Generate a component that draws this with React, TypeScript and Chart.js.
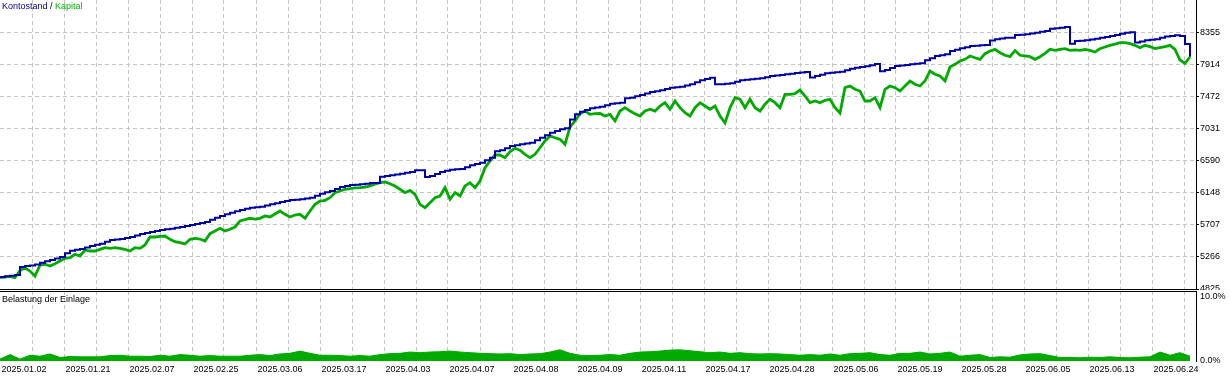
import React, { useEffect, useRef } from "react";
import { Chart, registerables } from "chart.js";

Chart.register(...registerables);

// ---- data ----
const balanceSeries = [
  4990, 5000, 5008, 5018, 5128, 5142, 5150, 5163, 5188, 5207,
  5225, 5246, 5266, 5317, 5353, 5366, 5377, 5397, 5418, 5434,
  5450, 5476, 5501, 5508, 5514, 5528, 5542, 5563, 5583, 5597,
  5611, 5625, 5639, 5648, 5656, 5669, 5680, 5694, 5707, 5721,
  5735, 5749, 5781, 5807, 5832, 5855, 5877, 5896, 5914, 5931,
  5946, 5953, 5960, 5976, 5993, 6008, 6025, 6038, 6052, 6056,
  6062, 6073, 6084, 6112, 6139, 6158, 6176, 6204, 6231, 6245,
  6259, 6263, 6269, 6277, 6287, 6287, 6374, 6383, 6393, 6404,
  6415, 6427, 6438, 6462, 6462, 6369, 6383, 6411, 6438, 6455,
  6470, 6476, 6480, 6505, 6531, 6549, 6567, 6601, 6636, 6725,
  6738, 6767, 6797, 6808, 6820, 6831, 6842, 6877, 6911, 6946,
  6980, 7004, 7027, 7041, 7162, 7234, 7270, 7293, 7317, 7328,
  7339, 7359, 7380, 7387, 7394, 7456, 7463, 7482, 7500, 7521,
  7541, 7552, 7565, 7583, 7601, 7608, 7615, 7631, 7648, 7675,
  7703, 7721, 7739, 7648, 7648, 7655, 7661, 7682, 7703, 7710,
  7717, 7723, 7730, 7746, 7762, 7769, 7776, 7786, 7794, 7803,
  7810, 7817, 7741, 7762, 7780, 7799, 7806, 7815, 7821, 7842,
  7863, 7875, 7886, 7897, 7910, 7928, 7826, 7845, 7872, 7900,
  7907, 7915, 7923, 7930, 7937, 7979, 8008, 8038, 8049, 8061,
  8107, 8125, 8144, 8159, 8176, 8180, 8185, 8190, 8252, 8268,
  8279, 8290, 8290, 8327, 8332, 8337, 8348, 8359, 8372, 8383,
  8414, 8421, 8428, 8436, 8207, 8245, 8249, 8254, 8265, 8276,
  8289, 8300, 8314, 8327, 8344, 8359, 8365, 8224, 8239, 8254,
  8261, 8268, 8290, 8307, 8315, 8323, 8314, 8203, 8028,
];

const equitySeries = [
  4981, 4990, 5000, 4981, 5080, 5115, 5073, 5004, 5156, 5166,
  5142, 5174, 5211, 5248, 5257, 5304, 5280, 5363, 5349, 5349,
  5372, 5395, 5386, 5395, 5386, 5372, 5349, 5395, 5386, 5432,
  5542, 5542, 5552, 5556, 5510, 5477, 5463, 5446, 5510, 5524,
  5514, 5487, 5588, 5625, 5662, 5625, 5648, 5680, 5763, 5783,
  5800, 5790, 5800, 5832, 5818, 5859, 5901, 5855, 5818, 5845,
  5855, 5800, 5901, 5993, 6038, 6048, 6084, 6153, 6176, 6200,
  6208, 6218, 6222, 6231, 6245, 6269, 6291, 6300, 6277, 6245,
  6200, 6153, 6186, 6131, 5993, 5946, 6015, 6084, 6107, 6222,
  6062, 6153, 6107, 6245, 6291, 6222, 6314, 6498, 6590, 6673,
  6673, 6636, 6718, 6765, 6738, 6682, 6636, 6682, 6773, 6866,
  6935, 6911, 6889, 6820, 7059, 7142, 7242, 7279, 7234, 7242,
  7245, 7211, 7234, 7142, 7279, 7325, 7279, 7242, 7211, 7279,
  7303, 7279, 7348, 7394, 7303, 7417, 7325, 7256, 7211, 7325,
  7394, 7348, 7303, 7348, 7211, 7114, 7325, 7463, 7441, 7325,
  7441, 7325, 7279, 7372, 7441, 7394, 7325, 7510, 7510, 7518,
  7569, 7486, 7394, 7417, 7394, 7427, 7441, 7325, 7252, 7601,
  7624, 7579, 7555, 7417, 7417, 7463, 7325, 7579, 7624, 7601,
  7555, 7624, 7693, 7648, 7624, 7693, 7831, 7786, 7762, 7693,
  7886, 7923, 7969, 7992, 8038, 8014, 7992, 8070, 8107, 8130,
  8083, 8048, 8028, 8114, 8048, 8038, 8028, 7992, 8028, 8075,
  8130, 8116, 8130, 8139, 8116, 8121, 8116, 8128, 8116, 8093,
  8139, 8162, 8185, 8203, 8221, 8221, 8207, 8185, 8152, 8185,
  8166, 8139, 8152, 8166, 8185, 8130, 7983, 7937, 8024,
];

const loadSeries = [
  0.3, 1.0, 0.3, 0.9, 0.75, 1.1, 0.55, 0.7, 0.65, 0.65,
  0.65, 0.85, 0.9, 0.75, 0.75, 0.7, 0.9, 0.75, 1.0, 0.9,
  0.75, 0.85, 0.75, 0.75, 0.75, 0.9, 1.0, 0.85, 1.1, 1.2,
  1.55, 1.2, 0.9, 0.9, 0.85, 0.75, 0.85, 0.75, 1.0, 1.15,
  1.2, 1.4, 1.3, 1.4, 1.45, 1.55, 1.4, 1.3, 1.2, 1.15,
  1.1, 1.15, 1.0, 1.1, 1.15, 1.4, 1.75, 1.2, 0.9, 0.85,
  0.9, 1.0, 0.9, 1.2, 1.4, 1.45, 1.55, 1.7, 1.75, 1.6,
  1.45, 1.3, 1.4, 1.2, 1.3, 1.15, 1.1, 1.15, 1.1, 1.0,
  0.9, 1.0, 0.9, 1.1, 0.9, 1.15, 1.2, 1.3, 1.0, 0.9,
  1.2, 1.2, 1.4, 1.1, 1.2, 1.4, 0.75, 0.9, 1.0, 0.55,
  0.65, 0.6, 0.95, 1.1, 1.15, 0.85, 0.55, 0.55, 0.5, 0.6,
  0.55, 0.65, 0.55, 0.5, 0.6, 0.65, 1.4, 0.9, 1.3, 0.75,
];

const dateLabels = [
  "2025.01.02", "2025.01.21", "2025.02.07", "2025.02.25", "2025.03.06",
  "2025.03.17", "2025.04.03", "2025.04.07", "2025.04.08", "2025.04.09",
  "2025.04.11", "2025.04.17", "2025.04.28", "2025.05.06", "2025.05.19",
  "2025.05.28", "2025.06.05", "2025.06.13", "2025.06.24",
];

const priceTicks = [4825, 5266.25, 5707.5, 6148.75, 6590, 7031.25, 7472.5, 7913.75, 8355];
const priceTickLabels = ["4825", "5266", "5707", "6148", "6590", "7031", "7472", "7914", "8355"];
const priceMin = 4825;
const priceMax = 8810;
const loadTicks = [0, 10];
const loadTickLabels = ["0.0%", "10.0%"];
const loadMax = 10.94;
const legendParts = ["Kontostand", " / ", "Kapital"];
const loadTitle = "Belastung der Einlage";

// ---- styling / layout ----
const FONT = '"Liberation Sans", Arial, sans-serif';
const W = 1231;
const PLOT_RIGHT = 1196;
const AXIS_W = W - PLOT_RIGHT;
const GRID_PX = 32;
const TOP_PX_PER_SAMPLE = 5;
const BOT_PX_PER_SAMPLE = 10;
const BLUE = "#0000a8";
const GREEN = "#00aa00";
const GRID = "#c4c4c4";
const DASH = [4, 3];

function gridTicks(pxPerUnit: number) {
  const out: { value: number }[] = [];
  for (let px = GRID_PX; px < PLOT_RIGHT; px += GRID_PX) out.push({ value: px / pxPerUnit });
  return out;
}

const legendPlugin = {
  id: "mtLegend",
  afterDraw(chart: any) {
    const ctx = chart.ctx;
    ctx.save();
    ctx.font = `9px ${FONT}`;
    ctx.textBaseline = "middle";
    const colors = ["#00008b", "#000000", "#00b400"];
    let x = 2;
    legendParts.forEach((t, i) => {
      ctx.fillStyle = colors[i];
      ctx.fillText(t, x, 7);
      x += ctx.measureText(t).width;
    });
    ctx.restore();
  },
};

const lowerPanelPlugin = {
  id: "mtLower",
  afterDraw(chart: any) {
    const ctx = chart.ctx;
    const a = chart.chartArea;
    ctx.save();
    ctx.strokeStyle = "#000";
    ctx.lineWidth = 1;
    ctx.beginPath();
    ctx.moveTo(0, a.top + 0.5);
    ctx.lineTo(a.right, a.top + 0.5);
    ctx.stroke();
    ctx.font = `9px ${FONT}`;
    ctx.textBaseline = "middle";
    ctx.fillStyle = "#000";
    ctx.fillText(loadTitle, 2, 9);
    ctx.restore();
  },
};

export default function App() {
  const topRef = useRef<HTMLCanvasElement>(null);
  const botRef = useRef<HTMLCanvasElement>(null);

  useEffect(() => {
    if (!topRef.current || !botRef.current) return;

    const top = new Chart(topRef.current, {
      type: "line",
      data: {
        datasets: [
          {
            label: legendParts[0],
            data: balanceSeries.map((v, i) => ({ x: i, y: v })),
            borderColor: BLUE,
            borderWidth: 2,
            pointRadius: 0,
            stepped: true,
            tension: 0,
          },
          {
            label: legendParts[2],
            data: equitySeries.map((v, i) => ({ x: i, y: v })),
            borderColor: GREEN,
            borderWidth: 2.8,
            borderJoinStyle: "miter",
            pointRadius: 0,
            tension: 0,
          },
        ],
      },
      options: {
        animation: false,
        responsive: false,
        devicePixelRatio: 1,
        events: [],
        layout: { padding: 0 },
        plugins: { legend: { display: false }, tooltip: { enabled: false } },
        scales: {
          x: {
            type: "linear",
            min: 0,
            max: PLOT_RIGHT / TOP_PX_PER_SAMPLE,
            afterBuildTicks: (s: any) => {
              s.ticks = gridTicks(TOP_PX_PER_SAMPLE);
            },
            afterFit: (s: any) => {
              s.height = 1;
              s.paddingLeft = 0;
              s.paddingRight = 0;
            },
            ticks: { display: false },
            grid: { color: GRID, drawTicks: false, lineWidth: 1 },
            border: { display: true, color: "#000", width: 1, dash: DASH },
          },
          y: {
            type: "linear",
            position: "right",
            min: priceMin,
            max: priceMax,
            afterBuildTicks: (s: any) => {
              s.ticks = priceTicks.map((v) => ({ value: v }));
            },
            afterFit: (s: any) => {
              s.width = AXIS_W;
              s.paddingTop = 0;
              s.paddingBottom = 0;
            },
            ticks: {
              callback: (_v: any, i: number) => priceTickLabels[i],
              font: { family: FONT, size: 9 },
              color: "#000",
              padding: 1,
              autoSkip: false,
            },
            grid: { color: GRID, tickColor: "#000", tickLength: 3, drawTicks: true, lineWidth: 1 },
            border: { display: true, color: "#000", width: 1, dash: DASH },
          },
        },
      },
      plugins: [legendPlugin],
    } as any);

    const bot = new Chart(botRef.current, {
      type: "line",
      data: {
        datasets: [
          {
            data: loadSeries.map((v, i) => ({ x: i, y: v })),
            borderColor: GREEN,
            backgroundColor: GREEN,
            borderWidth: 1,
            pointRadius: 0,
            fill: "origin",
            tension: 0,
          },
        ],
      },
      options: {
        animation: false,
        responsive: false,
        devicePixelRatio: 1,
        events: [],
        layout: { padding: 0 },
        plugins: { legend: { display: false }, tooltip: { enabled: false } },
        scales: {
          x: {
            type: "linear",
            min: 0,
            max: PLOT_RIGHT / BOT_PX_PER_SAMPLE,
            afterBuildTicks: (s: any) => {
              s.ticks = gridTicks(BOT_PX_PER_SAMPLE);
            },
            afterFit: (s: any) => {
              s.height = 17;
              s.paddingLeft = 0;
              s.paddingRight = 0;
            },
            ticks: {
              autoSkip: false,
              maxRotation: 0,
              minRotation: 0,
              padding: 3,
              labelOffset: -8,
              font: { family: FONT, size: 9 },
              color: "#000",
              callback: (_v: any, i: number) => (i % 2 === 0 ? dateLabels[i / 2] ?? "" : ""),
            },
            grid: { color: GRID, drawTicks: false, lineWidth: 1 },
            border: { display: false, dash: DASH },
          },
          y: {
            type: "linear",
            position: "right",
            min: 0,
            max: loadMax,
            afterBuildTicks: (s: any) => {
              s.ticks = loadTicks.map((v) => ({ value: v }));
            },
            afterFit: (s: any) => {
              s.width = AXIS_W;
              s.paddingTop = 0;
              s.paddingBottom = 0;
            },
            ticks: {
              callback: (_v: any, i: number) => loadTickLabels[i],
              font: { family: FONT, size: 9 },
              color: "#000",
              padding: 4,
              autoSkip: false,
            },
            grid: { drawOnChartArea: false, drawTicks: false },
            border: { display: true, color: "#000", width: 1 },
          },
        },
      },
      plugins: [lowerPanelPlugin],
    } as any);

    return () => {
      top.destroy();
      bot.destroy();
    };
  }, []);

  return (
    <div style={{ position: "fixed", left: 0, top: 0, width: W, height: 378, background: "#fff" }}>
      <canvas
        ref={topRef}
        width={W}
        height={290}
        style={{ position: "absolute", left: 0, top: 0, display: "block" }}
      />
      <canvas
        ref={botRef}
        width={W}
        height={87}
        style={{ position: "absolute", left: 0, top: 291, display: "block" }}
      />
    </div>
  );
}
